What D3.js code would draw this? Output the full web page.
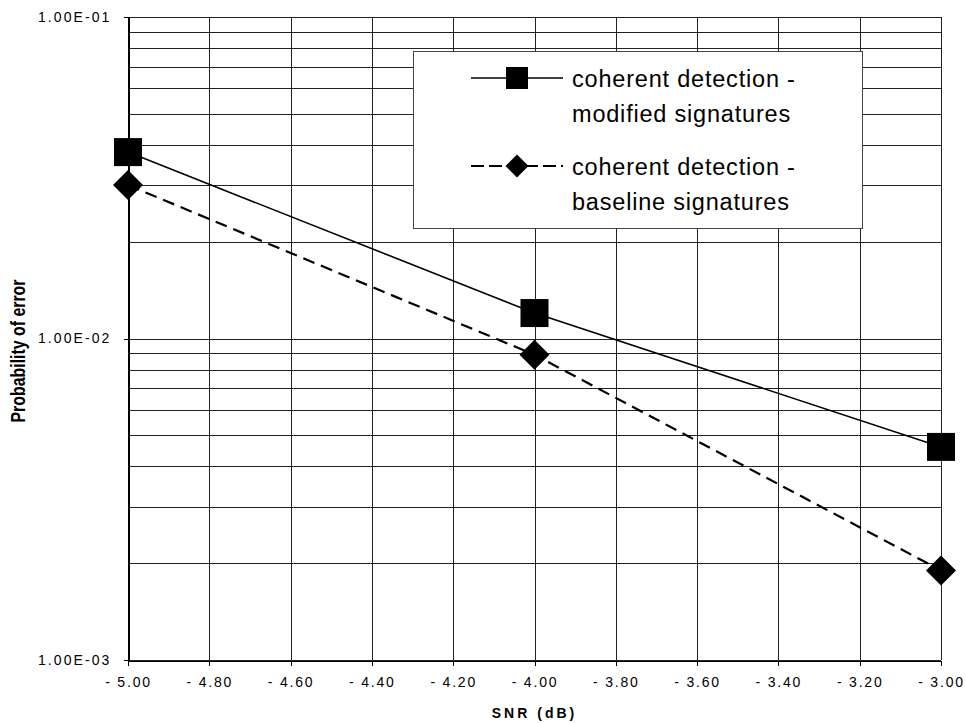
<!DOCTYPE html>
<html>
<head>
<meta charset="utf-8">
<script src="https://cdn.jsdelivr.net/npm/d3@7"></script>
<style>
  html, body { margin: 0; padding: 0; background: #fff; }
  svg { display: block; font-family: "Liberation Sans", Arial, sans-serif; }
</style>
</head>
<body>
<svg id="chart" width="966" height="723"></svg>
<script>
// SNR sweep (dB)
const snr = [-5.0, -4.0, -3.0];
// Probability of error, coherent detection
const modifiedPe = [0.038, 0.012, 0.0046];
const baselinePe = [0.030, 0.0089, 0.0019];
// Axis ticks
const xTicks = [-5.0, -4.8, -4.6, -4.4, -4.2, -4.0, -3.8, -3.6, -3.4, -3.2, -3.0];
const yTicks = [0.001, 0.01, 0.1];
const yTickLabels = ["1.00E-03", "1.00E-02", "1.00E-01"];
const seriesNames = [
  ["coherent detection -", "modified signatures"],
  ["coherent detection -", "baseline signatures"]
];

const svg = d3.select("#chart");
const m = { left: 128, right: 941, top: 17, bottom: 660 };

const x = d3.scaleLinear().domain([-5, -3]).range([m.left, m.right]);
const y = d3.scaleLog().domain([0.001, 0.1]).range([m.bottom, m.top]);

// Minor grid values: 1..9 in each decade
const gridY = [];
for (let e = -3; e < -1; e++) {
  for (let k = 1; k <= 9; k++) gridY.push(k * Math.pow(10, e));
}
gridY.push(0.1);

const grid = svg.append("g").attr("shape-rendering", "crispEdges");
grid.selectAll("line.h").data(gridY).join("line")
  .attr("x1", m.left).attr("x2", m.right)
  .attr("y1", d => Math.round(y(d)) + 0.5).attr("y2", d => Math.round(y(d)) + 0.5)
  .attr("stroke", "#222").attr("stroke-width", 1);
grid.selectAll("line.v").data(xTicks).join("line")
  .attr("y1", m.top).attr("y2", m.bottom)
  .attr("x1", d => Math.round(x(d)) + 0.5).attr("x2", d => Math.round(x(d)) + 0.5)
  .attr("stroke", "#222").attr("stroke-width", 1);

// X axis
const xAxis = d3.axisBottom(x).tickValues(xTicks).tickSize(5).tickPadding(12)
  .tickFormat(d => (d < 0 ? "- " : "") + Math.abs(d).toFixed(2));
const gx = svg.append("g").attr("transform", `translate(0,${m.bottom + 0.5})`).call(xAxis);
gx.select(".domain").attr("stroke", "#000").attr("shape-rendering", "crispEdges");
gx.selectAll(".tick line").attr("stroke", "#000").attr("shape-rendering", "crispEdges");
gx.selectAll(".tick text").attr("font-size", 14).attr("letter-spacing", "1.8px")
  .attr("fill", "#000").attr("font-family", "Liberation Sans, Arial, sans-serif");

// Y axis
const yAxis = d3.axisLeft(y).tickValues(yTicks).tickSize(5).tickPadding(12)
  .tickFormat((d, i) => yTickLabels[i]);
const gy = svg.append("g").attr("transform", `translate(${m.left + 0.5},0)`).call(yAxis);
gy.select(".domain").attr("stroke", "#000").attr("stroke-width", 1.5).attr("shape-rendering", "crispEdges");
gy.selectAll(".tick line").attr("stroke", "#000").attr("shape-rendering", "crispEdges");
gy.selectAll(".tick text").attr("font-size", 14).attr("letter-spacing", "2.1px")
  .attr("fill", "#000").attr("font-family", "Liberation Sans, Arial, sans-serif");

// Axis titles
svg.append("text")
  .attr("x", (m.left + m.right) / 2).attr("y", 718)
  .attr("text-anchor", "middle").attr("font-weight", "bold").attr("font-size", 14)
  .attr("letter-spacing", "3px").text("SNR (dB)");

svg.append("text")
  .attr("transform", "translate(25,351) rotate(-90)")
  .attr("text-anchor", "middle").attr("font-weight", "bold").attr("font-size", 20)
  .attr("textLength", 143).attr("lengthAdjust", "spacingAndGlyphs")
  .text("Probability of error");

// Series lines
const line = d3.line().x(d => x(d[0])).y(d => y(d[1]));
const modPts = snr.map((s, i) => [s, modifiedPe[i]]);
const basePts = snr.map((s, i) => [s, baselinePe[i]]);

svg.append("path").datum(modPts).attr("d", line)
  .attr("fill", "none").attr("stroke", "#000").attr("stroke-width", 1.6);
svg.append("path").datum(basePts).attr("d", line)
  .attr("fill", "none").attr("stroke", "#000").attr("stroke-width", 2.2)
  .attr("stroke-dasharray", "12,7");

// Markers
const sq = 28, dia = 15;
svg.append("g").selectAll("rect").data(modPts).join("rect")
  .attr("x", d => x(d[0]) - sq / 2).attr("y", d => y(d[1]) - sq / 2)
  .attr("width", sq).attr("height", sq).attr("fill", "#000");
const diamond = r => `M0,${-r}L${r},0L0,${r}L${-r},0Z`;
svg.append("g").selectAll("path").data(basePts).join("path")
  .attr("transform", d => `translate(${x(d[0])},${y(d[1])})`)
  .attr("d", diamond(dia)).attr("fill", "#000");

// Legend
const lg = svg.append("g");
lg.append("rect").attr("x", 413.5).attr("y", 51.5).attr("width", 449).attr("height", 177)
  .attr("fill", "#fff").attr("stroke", "#444").attr("stroke-width", 1);

const rows = [
  { y: 78, dash: null, marker: "square" },
  { y: 166, dash: "13,5", marker: "diamond" }
];
rows.forEach((r, i) => {
  lg.append("line").attr("x1", 471).attr("x2", 563).attr("y1", r.y).attr("y2", r.y)
    .attr("stroke", "#000").attr("stroke-width", r.dash ? 2.2 : 1.6)
    .attr("stroke-dasharray", r.dash);
  if (r.marker === "square") {
    lg.append("rect").attr("x", 517 - 11).attr("y", r.y - 11).attr("width", 22).attr("height", 22).attr("fill", "#000");
  } else {
    lg.append("path").attr("transform", `translate(517,${r.y})`).attr("d", diamond(11.5)).attr("fill", "#000");
  }
  const t = lg.append("text").attr("font-size", 23.5).attr("letter-spacing", "0.8px").attr("fill", "#000");
  t.append("tspan").attr("x", 572).attr("y", r.y + 9).text(seriesNames[i][0]);
  t.append("tspan").attr("x", 572).attr("y", r.y + 44).text(seriesNames[i][1]);
});
</script>
</body>
</html>
